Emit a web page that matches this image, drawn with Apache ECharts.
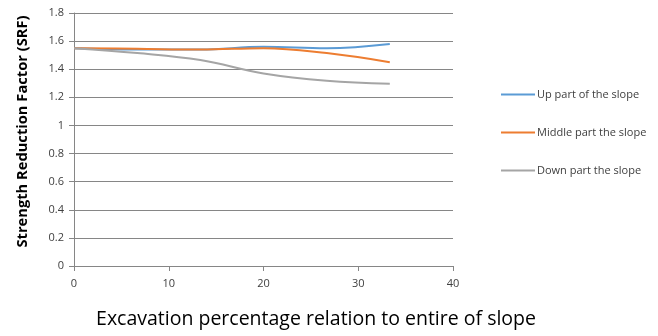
<!DOCTYPE html>
<html>
<head>
<meta charset="utf-8">
<script src="https://cdn.jsdelivr.net/npm/echarts@6/dist/echarts.min.js"></script>
<style>
  html, body { margin: 0; padding: 0; background: #fff; }
  #chart { width: 658px; height: 336px; }
</style>
</head>
<body>
<div id="chart"></div>
<script>
// Excavation steps (% of the slope removed)
const excavation = [0, 6.67, 13.33, 20, 26.67, 33.33];

// Strength Reduction Factor for each excavation zone
const upPart = [1.55, 1.54, 1.54, 1.56, 1.55, 1.58];
const middlePart = [1.55, 1.545, 1.54, 1.55, 1.515, 1.45];
const downPart = [1.55, 1.515, 1.465, 1.37, 1.318, 1.297];

const seriesNames = ['Up part of the slope', 'Middle part the slope', 'Down part the slope'];
const seriesColors = ['#5B9BD5', '#ED7D31', '#A5A5A5'];
const seriesValues = [upPart, middlePart, downPart];

const chart = echarts.init(document.getElementById('chart'));
const axisGrey = '#868686';
const fontFamily = 'Open Sans, Liberation Sans, sans-serif';
const labelFont = { fontFamily: fontFamily, fontSize: 11, color: '#404040' };

chart.setOption({
  animation: false,
  grid: { left: 74, right: 205, top: 13, bottom: 70, containLabel: false, outerBoundsMode: 'none' },
  legend: {
    orient: 'vertical',
    left: 496,
    top: 84,
    itemGap: 27,
    itemWidth: 34,
    itemHeight: 2,
    icon: 'rect',
    textStyle: { fontFamily: fontFamily, fontSize: 11, color: '#404040', padding: [0, 0, 0, -3] },
    data: seriesNames
  },
  xAxis: {
    type: 'value',
    min: 0, max: 40, interval: 10,
    name: 'Excavation percentage relation to entire of slope',
    nameLocation: 'middle',
    nameGap: 43,
    nameTextStyle: { fontFamily: fontFamily, fontSize: 19.5, color: '#000', padding: [0, 0, 0, 105] },
    axisLine: { show: true, lineStyle: { color: axisGrey, width: 1 } },
    axisTick: { show: true, length: 5, lineStyle: { color: axisGrey } },
    axisLabel: Object.assign({ margin: 12 }, labelFont),
    splitLine: { show: false }
  },
  yAxis: {
    type: 'value',
    min: 0, max: 1.8, interval: 0.2,
    name: 'Strength Reduction Factor (SRF)',
    nameLocation: 'middle',
    nameGap: 44,
    nameTextStyle: { fontFamily: fontFamily, fontSize: 14.7, fontWeight: 'bold', color: '#000', padding: [0, 0, 0, 16] },
    axisLine: { show: true, lineStyle: { color: axisGrey, width: 1 } },
    axisTick: { show: true, length: 5, lineStyle: { color: axisGrey } },
    axisLabel: Object.assign({ margin: 10 }, labelFont),
    splitLine: { show: true, lineStyle: { color: axisGrey, width: 1 } }
  },
  series: seriesNames.map((name, i) => ({
    name: name,
    type: 'line',
    smooth: 0.4,
    symbol: 'none',
    data: excavation.map((x, j) => [x, seriesValues[i][j]]),
    lineStyle: { color: seriesColors[i], width: 2 },
    itemStyle: { color: seriesColors[i] }
  }))
});
</script>
</body>
</html>
